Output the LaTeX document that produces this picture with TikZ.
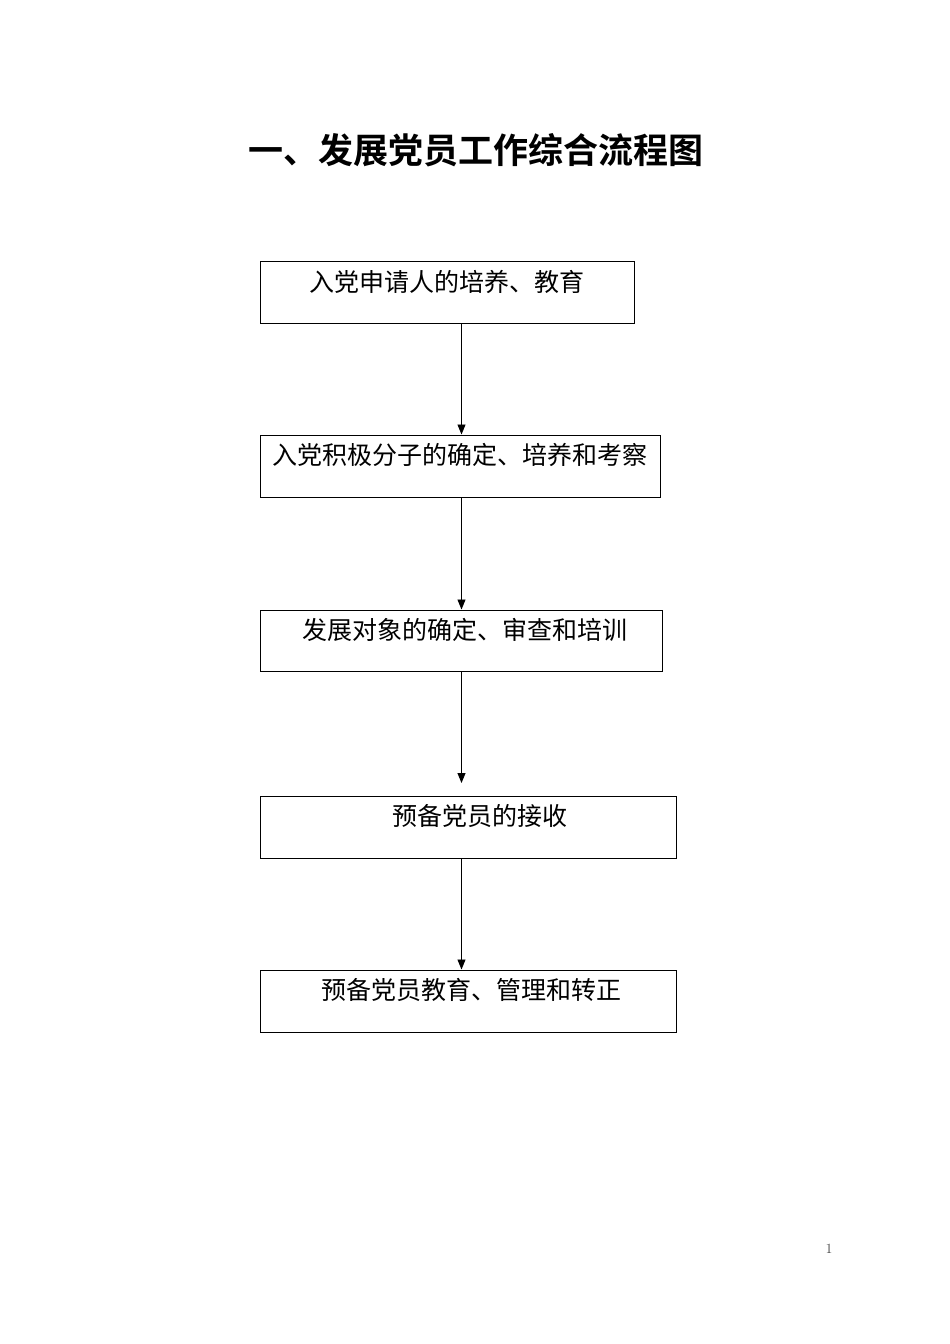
\documentclass[tikz,border=0pt]{standalone}
\usepackage{fontspec}
\newfontfamily\cjk{Noto Sans CJK SC}
\newfontfamily\cjkb{Noto Sans CJK SC Bold}
\usetikzlibrary{arrows.meta}
\begin{document}
\begin{tikzpicture}[x=1pt,y=-1pt,
  box/.style={draw=black,line width=1pt,inner sep=0pt},
  lbl/.style={font=\cjk\fontsize{25}{25}\selectfont,inner sep=0pt,anchor=center},
  flow/.style={draw=black,line width=0.9pt,-{Triangle[length=10pt,width=8pt]}}]
\useasboundingbox (0,0) rectangle (950,1344);
\node[font=\cjkb\fontsize{35}{35}\selectfont,inner sep=0pt] (title) at (475.5,150) {一、发展党员工作综合流程图};
% boxes
\node[box,minimum width=374pt,minimum height=62pt] (b1) at (447,292) {};
\node[box,minimum width=400pt,minimum height=62pt] (b2) at (460,466) {};
\node[box,minimum width=402pt,minimum height=61pt] (b3) at (461,640.5) {};
\node[box,minimum width=416pt,minimum height=62pt] (b4) at (468,827) {};
\node[box,minimum width=416pt,minimum height=62pt] (b5) at (468,1001) {};
% labels
\node[lbl] (t1) at (447,282) {入党申请人的培养、教育};
\node[lbl] (t2) at (459.5,455) {入党积极分子的确定、培养和考察};
\node[lbl] (t3) at (465,630) {发展对象的确定、审查和培训};
\node[lbl] (t4) at (480,816) {预备党员的接收};
\node[lbl] (t5) at (471,990) {预备党员教育、管理和转正};
% connectors
\coordinate (e3) at (461.5,783);
\draw[flow] (b1.south -| 461.5,0) -- (b2.north -| 461.5,0);
\draw[flow] (b2.south -| 461.5,0) -- (b3.north -| 461.5,0);
\draw[flow] (b3.south -| 461.5,0) -- (e3);
\draw[flow] (b4.south -| 461.5,0) -- (b5.north -| 461.5,0);
\node[font=\fontsize{14}{14}\selectfont,inner sep=0pt,text=black!75] (pg) at (829,1249) {1};
\end{tikzpicture}
\end{document}
